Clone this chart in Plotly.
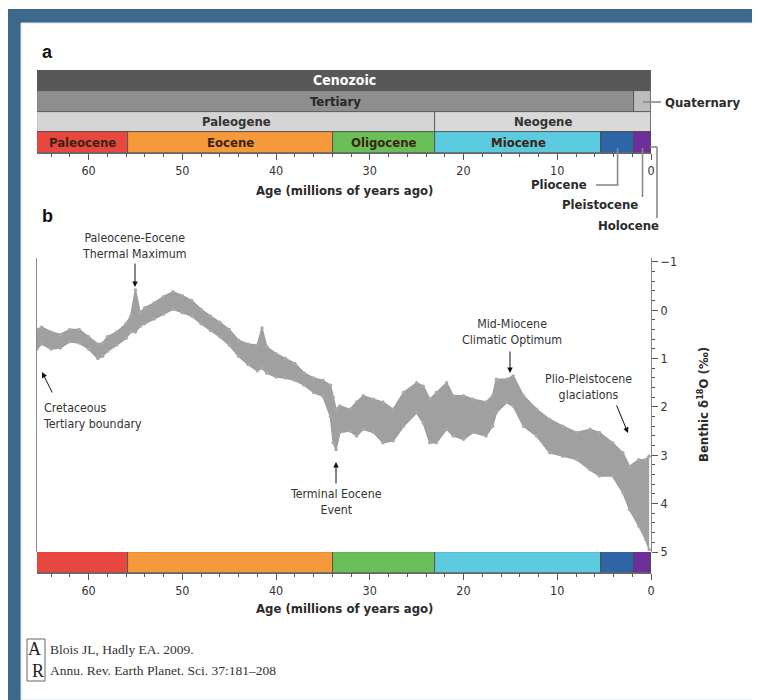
import plotly.graph_objects as go

# ---------------- data ----------------
era_names = ["Cenozoic"]
era_start = [65.5]
era_end = [0.0]
era_colors = ["#585858"]

period_names = ["Tertiary", "Quaternary"]
period_start = [65.5, 1.8]
period_end = [1.8, 0.0]
period_colors = ["#8e8e8e", "#bcbcbc"]

subperiod_names = ["Paleogene", "Neogene"]
subperiod_start = [65.5, 23.03]
subperiod_end = [23.03, 0.0]
subperiod_colors = ["#d5d5d5", "#d9d9d9"]

epoch_names = ["Paleocene", "Eocene", "Oligocene", "Miocene", "Pliocene", "Pleistocene", "Holocene"]
epoch_start = [65.5, 55.8, 33.9, 23.03, 5.33, 1.8, 0.0117]
epoch_end = [55.8, 33.9, 23.03, 5.33, 1.8, 0.0117, 0.0]
epoch_colors = ["#e8473f", "#f6993b", "#6bbf59", "#5ccbe0", "#2e65a7", "#6f2f9b", "#e0559a"]
epoch_labeled = [True, True, True, True, False, False, False]

age_ticks = [60, 50, 40, 30, 20, 10, 0]
d18o_ticks = [-1, 0, 1, 2, 3, 4, 5]

# benthic d18O envelope (age Ma, top edge, bottom edge of the point cloud)
age = [65.5, 65.0, 64.0, 63.0, 62.0, 61.0, 60.0, 59.0, 58.5, 58.0, 57.0, 56.0, 55.5,
       55.0, 54.5, 54.0, 53.0, 52.0, 51.0, 50.0, 49.0, 48.0, 47.0, 46.0, 45.0, 44.0, 43.0,
       42.0, 41.5, 41.0, 40.0, 39.0, 38.0, 37.0, 36.0, 35.0, 34.2, 33.9, 33.6, 33.2, 32.1,
       31.4, 30.7, 29.6, 28.6, 27.5, 26.4, 25.0, 24.3, 23.6, 22.9, 21.8, 21.1, 20.0, 19.0,
       17.6, 16.9, 16.5, 15.4, 14.7, 13.6, 12.2, 10.8, 9.4, 7.9, 6.5, 5.5, 4.1, 3.0, 2.3,
       1.3, 0.6, 0.2]
d18o_top = [0.40, 0.35, 0.45, 0.50, 0.40, 0.40, 0.55, 0.70, 0.68, 0.55, 0.45, 0.28, 0.12,
            -0.42, 0.05, -0.05, -0.15, -0.28, -0.38, -0.30, -0.20, -0.02, 0.12, 0.25, 0.40, 0.62, 0.70,
            0.72, 0.37, 0.75, 0.90, 1.00, 1.10, 1.30, 1.40, 1.45, 1.55, 1.80, 2.05, 1.98, 2.05,
            1.90, 1.77, 1.84, 1.90, 2.05, 1.70, 1.50, 1.57, 1.84, 1.70, 1.50, 1.77, 1.77, 1.84,
            1.90, 1.77, 1.43, 1.43, 1.36, 1.77, 2.05, 2.26, 2.40, 2.53, 2.46, 2.53, 2.74, 2.95, 3.23,
            3.09, 3.09, 3.02]
d18o_bottom = [0.80, 0.70, 0.80, 0.78, 0.65, 0.68, 0.80, 1.00, 0.95, 0.85, 0.72, 0.58, 0.45,
               0.45, 0.33, 0.28, 0.18, 0.08, -0.02, 0.05, 0.12, 0.28, 0.42, 0.55, 0.72, 0.95, 1.12,
               1.25, 1.20, 1.30, 1.38, 1.40, 1.45, 1.55, 1.70, 1.78, 2.20, 2.74, 2.88, 2.53, 2.50,
               2.60, 2.46, 2.53, 2.74, 2.70, 2.40, 2.12, 2.33, 2.74, 2.74, 2.46, 2.60, 2.67, 2.53,
               2.60, 2.40, 2.12, 1.91, 1.98, 2.40, 2.60, 2.95, 3.02, 3.09, 3.30, 3.43, 3.43, 3.77, 4.12,
               4.46, 4.73, 4.95]

# ---------------- helpers (reference pixel -> paper); page body adds an 8px margin ----------------
OFF = 8
W, H = 760 - OFF, 700 - OFF
def fx(p):
    return (p - OFF) / W
def fy(p):
    return 1 - (p - OFF) / H

FONT = "Liberation Sans Narrow, DejaVu Sans Condensed, Roboto Condensed, Open Sans, sans-serif"
TXT = "#2b2b2b"
GRAY = "#9d9d9d"

fig = go.Figure()

def add_row(names, starts, ends, colors, row, xa, ya):
    fig.add_trace(go.Bar(
        y=[row] * len(names), x=[s - e for s, e in zip(starts, ends)], base=ends,
        orientation="h", width=1, marker=dict(color=colors, line=dict(color="#4a4a4a", width=0.8)),
        xaxis=xa, yaxis=ya, hoverinfo="skip", showlegend=False))

# Panel a bars
add_row(era_names, era_start, era_end, era_colors, 3, "x", "y")
add_row(period_names, period_start, period_end, period_colors, 2, "x", "y")
add_row(subperiod_names, subperiod_start, subperiod_end, subperiod_colors, 1, "x", "y")
add_row(epoch_names, epoch_start, epoch_end, epoch_colors, 0, "x", "y")

# Panel b data
fig.add_trace(go.Scatter(x=age, y=d18o_top, mode="lines", line=dict(color=GRAY, width=1.5),
                         xaxis="x2", yaxis="y2", hoverinfo="skip", showlegend=False))
fig.add_trace(go.Scatter(x=age, y=d18o_bottom, mode="lines", fill="tonexty", fillcolor="#a0a0a0",
                         line=dict(color=GRAY, width=1.5),
                         xaxis="x2", yaxis="y2", hoverinfo="skip", showlegend=False))
fig.add_trace(go.Scatter(x=age + age, y=d18o_top + d18o_bottom, mode="markers",
                         marker=dict(color="#a9a9a9", size=3.5),
                         xaxis="x2", yaxis="y2", hoverinfo="skip", showlegend=False))

# Panel b bottom epoch bar
add_row(epoch_names, epoch_start, epoch_end, epoch_colors, 0, "x2", "y3")

# ---------------- annotations ----------------
ann = []
def label(x, y, text, size=13, color=TXT, bold=True, xref="x", yref="y", xanchor="center",
          yanchor="middle", family=FONT, align="center"):
    ann.append(dict(x=x, y=y, xref=xref, yref=yref, text=("<b>%s</b>" % text) if bold else text,
                    showarrow=False, xanchor=xanchor, yanchor=yanchor, align=align,
                    font=dict(family=family, size=size, color=color)))

label((era_start[0] + era_end[0]) / 2, 3, era_names[0], size=14, color="white")
label((period_start[0] + period_end[0]) / 2, 2, period_names[0], color="#262626")
for n, s, e in zip(subperiod_names, subperiod_start, subperiod_end):
    label((s + e) / 2, 1, n, color="#333333")
for n, s, e, lab in zip(epoch_names, epoch_start, epoch_end, epoch_labeled):
    if lab:
        label((s + e) / 2, 0, n, color="#3a2414")

# panel letters
label(fx(40), fy(52), "a", size=18, color="#111", xref="paper", yref="paper", xanchor="left",
      family="Liberation Sans, Arial, sans-serif")
label(fx(40), fy(216), "b", size=18, color="#111", xref="paper", yref="paper", xanchor="left",
      family="Liberation Sans, Arial, sans-serif")

# axis titles
label(fx(344), fy(190), "Age (millions of years ago)", size=13, xref="paper", yref="paper")
label(fx(344), fy(608), "Age (millions of years ago)", size=13, xref="paper", yref="paper")
ann.append(dict(x=fx(703), y=fy(405), xref="paper", yref="paper", textangle=-90, showarrow=False,
                xanchor="center", yanchor="middle",
                text="<b>Benthic δ<sup>18</sup>O (‰)</b>", font=dict(family=FONT, size=13, color=TXT)))

# callouts for short epochs
label(fx(589), fy(184), "Pliocene", size=13, xref="paper", yref="paper", xanchor="right")
label(fx(640), fy(204), "Pleistocene", size=13, xref="paper", yref="paper", xanchor="right")
label(fx(661), fy(225), "Holocene", size=13, xref="paper", yref="paper", xanchor="right")
label(fx(663), fy(102), "Quaternary", size=13, xref="paper", yref="paper", xanchor="left")

# event annotations (text)
def note(x, y, text, xanchor="center", align="center"):
    ann.append(dict(x=fx(x), y=fy(y), xref="paper", yref="paper", text=text, showarrow=False,
                    xanchor=xanchor, yanchor="middle", align=align,
                    font=dict(family=FONT, size=12.3, color="#333")))
note(135, 246, "Paleocene-Eocene<br>Thermal Maximum")
note(41, 416, "Cretaceous<br>Tertiary boundary", xanchor="left", align="left")
note(336, 502, "Terminal Eocene<br>Event")
note(512, 332, "Mid-Miocene<br>Climatic Optimum")
note(588, 387, "Plio-Pleistocene<br>glaciations")

def arrow(xh, yh, xt, yt):
    ann.append(dict(x=fx(xh), y=fy(yh), ax=xt - xh, ay=yt - yh, xref="paper", yref="paper",
                    axref="pixel", ayref="pixel", text="", showarrow=True, arrowhead=2,
                    arrowsize=1.1, arrowwidth=1, arrowcolor="#111", standoff=0, startstandoff=0))
arrow(135, 287, 135, 262)
arrow(42, 372, 53, 394)
arrow(336, 462, 336, 485)
arrow(510, 373, 510, 350)
arrow(628, 433, 616, 404)

# citation
SERIF = "Liberation Serif, Times New Roman, serif"
ann.append(dict(x=fx(48), y=fy(649), xref="paper", yref="paper", text="Blois JL, Hadly EA. 2009.",
                showarrow=False, xanchor="left", yanchor="middle", font=dict(family=SERIF, size=13.5, color="#333")))
ann.append(dict(x=fx(48), y=fy(670), xref="paper", yref="paper", text="Annu. Rev. Earth Planet. Sci. 37:181–208",
                showarrow=False, xanchor="left", yanchor="middle", font=dict(family=SERIF, size=13.5, color="#333")))
ann.append(dict(x=fx(34), y=fy(649), xref="paper", yref="paper", text="A", showarrow=False,
                xanchor="center", yanchor="middle", font=dict(family=SERIF, size=18, color="#222")))
ann.append(dict(x=fx(38), y=fy(671), xref="paper", yref="paper", text="R", showarrow=False,
                xanchor="center", yanchor="middle", font=dict(family=SERIF, size=18, color="#222")))

# ---------------- shapes ----------------
shapes = [
    dict(type="rect", xref="paper", yref="paper", x0=fx(7), x1=fx(760), y0=fy(700), y1=fy(9),
         fillcolor="#3d6889", line=dict(width=0), layer="below"),
    dict(type="rect", xref="paper", yref="paper", x0=fx(21), x1=fx(757), y0=fy(700), y1=fy(23),
         fillcolor="white", line=dict(color="#cfe3ee", width=1), layer="below"),
    dict(type="rect", xref="paper", yref="paper", x0=fx(27), x1=fx(45), y0=fy(681), y1=fy(639),
         line=dict(color="#666", width=1)),
]
lc = dict(color="#8a8a8a", width=1.6)
pm = (epoch_start[4] + epoch_end[4]) / 2
shapes.append(dict(type="line", xref="x", yref="paper", x0=pm, x1=pm, y0=fy(148), y1=fy(185), line=lc))
shapes.append(dict(type="line", xref="paper", yref="paper", x0=fx(596), x1=fx(618.5), y0=fy(185), y1=fy(185), line=lc))
qm = (epoch_start[5] + epoch_end[5]) / 2
shapes.append(dict(type="line", xref="x", yref="paper", x0=qm, x1=qm, y0=fy(148), y1=fy(197), line=lc))
shapes.append(dict(type="line", xref="paper", yref="paper", x0=fx(657), x1=fx(657), y0=fy(147), y1=fy(218), line=lc))
shapes.append(dict(type="line", xref="paper", yref="paper", x0=fx(650), x1=fx(657), y0=fy(147), y1=fy(147), line=lc))
shapes.append(dict(type="line", xref="paper", yref="paper", x0=fx(643), x1=fx(661), y0=fy(102), y1=fy(102), line=lc))

axis_common = dict(range=[65.5, 0], tickvals=age_ticks, ticks="outside", ticklen=6, tickwidth=1,
                   tickcolor="#555", showline=True, linecolor="#666", linewidth=1, showgrid=False,
                   zeroline=False, tickfont=dict(family=FONT, size=12.5, color="#333"),
                   minor=dict(dtick=2, ticks="outside", ticklen=3, tickcolor="#555"), fixedrange=True)

fig.update_layout(
    width=W, height=H, margin=dict(l=0, r=0, t=0, b=0, autoexpand=False), paper_bgcolor="white",
    plot_bgcolor="rgba(0,0,0,0)", barmode="overlay", bargap=0,
    xaxis=dict(domain=[fx(37), fx(651)], anchor="y", **axis_common),
    yaxis=dict(domain=[fy(153), fy(70)], range=[-0.5, 3.5], visible=False, fixedrange=True),
    xaxis2=dict(domain=[fx(37), fx(651)], anchor="y3", **axis_common),
    yaxis2=dict(domain=[fy(552), fy(258)], range=[5, -1.08], side="right", anchor="x2",
                tickvals=d18o_ticks, ticks="outside", ticklen=6, tickcolor="#555", showline=True,
                linecolor="#888", linewidth=1.2, mirror=True, showgrid=False, zeroline=False,
                tickfont=dict(family=FONT, size=12.5, color="#333"),
                minor=dict(dtick=0.2, ticks="outside", ticklen=3, tickcolor="#555"), fixedrange=True),
    yaxis3=dict(domain=[fy(573), fy(552)], range=[-0.5, 0.5], visible=False, fixedrange=True),
    annotations=ann, shapes=shapes,
)

fig.write_html("out.html")
